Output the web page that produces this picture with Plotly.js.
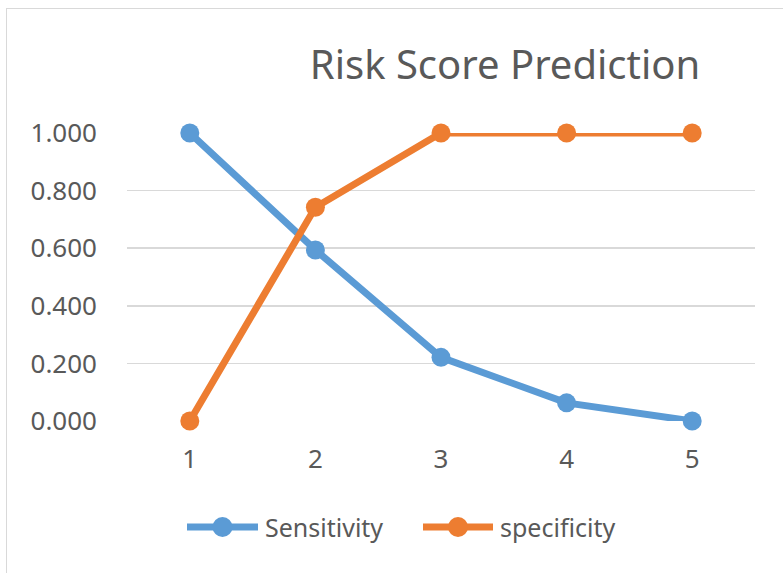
<!DOCTYPE html>
<html>
<head>
<meta charset="utf-8">
<script src="https://cdn.plot.ly/plotly-3.0.1.min.js"></script>
<style>
html,body{margin:0;padding:0;background:#fff;overflow:hidden;}
#chart{position:absolute;left:0;top:0;width:783px;height:573px;}
#frame{position:absolute;left:6px;top:8px;width:800px;height:600px;border:1.5px solid #D9D9D9;pointer-events:none;}
</style>
</head>
<body>
<div id="chart"></div>
<div id="frame"></div>
<script>
const categories = ["1", "2", "3", "4", "5"];
const seriesNames = ["Sensitivity", "specificity"];
const sensitivity = [1.000, 0.594, 0.221, 0.063, 0.000];
const specificity = [0.000, 0.742, 1.000, 1.000, 1.000];
const yTicks = [0, 0.2, 0.4, 0.6, 0.8, 1.0];
const colors = ["#5B9BD5", "#ED7D31"];

const FONT = "Noto Sans, Open Sans, sans-serif";
const TXT = "#595959";

const traces = [sensitivity, specificity].map((vals, i) => ({
  type: "scatter",
  mode: "lines+markers",
  x: categories,
  y: vals,
  name: seriesNames[i],
  line: {color: colors[i], width: 7},
  marker: {color: colors[i], size: 19},
  cliponaxis: false,
  showlegend: false
}));

// custom legend, Excel style (long line with centred marker)
const legendY = -0.368;
const legendItems = [
  {x0: 187, x1: 258, tx: 263},
  {x0: 423, x1: 493, tx: 498}
];
const L = 127, W = 628;
const px = v => (v - L) / W;
const shapes = [];
const annotations = [];
legendItems.forEach((it, i) => {
  shapes.push({type: "line", xref: "paper", yref: "paper",
    x0: px(it.x0), x1: px(it.x1), y0: legendY, y1: legendY,
    line: {color: colors[i], width: 7}});
  const cx = px((it.x0 + it.x1) / 2);
  shapes.push({type: "circle", xref: "paper", yref: "paper",
    xsizemode: "pixel", ysizemode: "pixel", xanchor: cx, yanchor: legendY,
    x0: -10, x1: 10, y0: -10, y1: 10,
    fillcolor: colors[i], line: {width: 0}});
  annotations.push({xref: "paper", yref: "paper", x: px(it.tx), y: legendY,
    xanchor: "left", yanchor: "middle", showarrow: false,
    text: seriesNames[i], font: {family: FONT, size: 25, color: TXT}});
});

const layout = {
  width: 783, height: 573,
  paper_bgcolor: "#ffffff", plot_bgcolor: "#ffffff",
  margin: {l: 127, r: 28, t: 133, b: 152},
  title: {text: "Risk Score Prediction", font: {family: FONT, size: 40, color: TXT},
    xref: "container", yref: "container", x: 505/783, y: 1 - 65/573,
    xanchor: "center", yanchor: "middle"},
  xaxis: {type: "category", range: [-0.5, 4.5], showgrid: false, zeroline: false, showline: false,
    ticks: "", ticklabelstandoff: 20,
    tickfont: {family: FONT, size: 26, color: TXT}},
  yaxis: {range: [0, 1], tickvals: yTicks, tickformat: ".3f",
    showgrid: true, gridcolor: "#D9D9D9", gridwidth: 1.5, zeroline: false, showline: false,
    ticks: "", ticklabelstandoff: 29,
    tickfont: {family: FONT, size: 26, color: TXT}},
  shapes: shapes,
  annotations: annotations,
  showlegend: false
};

Plotly.newPlot("chart", traces, layout, {displayModeBar: false, staticPlot: true});
</script>
</body>
</html>
